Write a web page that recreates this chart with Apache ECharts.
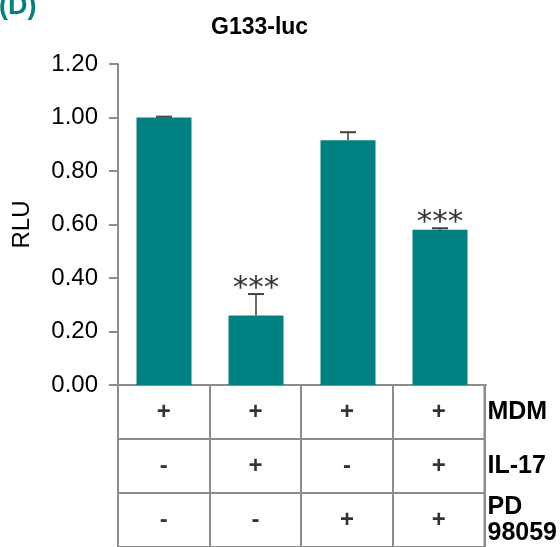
<!DOCTYPE html>
<html>
<head>
<meta charset="utf-8">
<script src="https://cdn.jsdelivr.net/npm/echarts@6/dist/echarts.min.js"></script>
<style>
  html, body { margin: 0; padding: 0; background: #fff; }
  #chart { width: 560px; height: 547px; }
</style>
</head>
<body>
<div id="chart"></div>
<script>
// ---- data ----
const categories = ['C1', 'C2', 'C3', 'C4'];
const rluValues = [1.00, 0.26, 0.915, 0.58];
const rluErrors = [0.003, 0.08, 0.03, 0.006];
const significance = ['', '***', '', '***'];
const rowLabels = ['MDM', 'IL-17', 'PD\n98059'];
const rowMDM = ['+', '+', '+', '+'];
const rowIL17 = ['-', '+', '-', '+'];
const rowPD = ['-', '-', '+', '+'];
const tableRows = [rowMDM, rowIL17, rowPD];

const FONT = '"Liberation Sans", Arial, sans-serif';
const TEAL = '#008080';
const GRAY = '#8c8c8c';

const cellData = [];
tableRows.forEach((row, r) => row.forEach((s, c) => cellData.push({ value: [c, r], sign: s })));

const topData = rluValues.map((v, i) => ({ value: [i, v + rluErrors[i]], stars: significance[i] }));

const chart = echarts.init(document.getElementById('chart'));
chart.setOption({
  animation: false,
  backgroundColor: '#fff',
  title: [
    { text: '(D)', left: -6, top: -12, textStyle: { fontFamily: FONT, fontSize: 27, fontWeight: 'bold', color: TEAL } },
    { text: 'G133-luc', left: 206, top: 11, textStyle: { fontFamily: FONT, fontSize: 23, fontWeight: 'bold', color: '#000' } }
  ],
  grid: [
    { left: 118, width: 368, top: 64, height: 321 },
    { left: 118, width: 368, top: 385, height: 165, show: true, borderColor: GRAY, borderWidth: 2, backgroundColor: 'transparent' }
  ],
  xAxis: [
    {
      type: 'category', data: categories, gridIndex: 0,
      axisLine: { show: true, lineStyle: { color: GRAY, width: 2 } },
      axisTick: { show: false }, axisLabel: { show: false }, splitLine: { show: false }
    },
    {
      type: 'category', data: categories, gridIndex: 1,
      axisLine: { show: false }, axisTick: { show: false }, axisLabel: { show: false },
      splitLine: { show: true, lineStyle: { color: GRAY, width: 2 } }
    }
  ],
  yAxis: [
    {
      type: 'value', gridIndex: 0, min: 0, max: 1.2, interval: 0.2,
      name: 'RLU', nameLocation: 'middle', nameGap: 84, nameRotate: 90,
      nameTextStyle: { fontFamily: FONT, fontSize: 24, color: '#000' },
      axisLine: { show: true, lineStyle: { color: GRAY, width: 2 } },
      axisTick: { show: true, length: 9, lineStyle: { color: GRAY, width: 2 } },
      axisLabel: { fontFamily: FONT, fontSize: 24, color: '#000', margin: 20, formatter: v => v.toFixed(2) },
      splitLine: { show: false }
    },
    {
      type: 'category', gridIndex: 1, data: rowLabels, inverse: true, position: 'right',
      axisLine: { show: false }, axisTick: { show: false },
      axisLabel: { fontFamily: FONT, fontSize: 25, fontWeight: 'bold', color: '#000', margin: 3, lineHeight: 26 },
      splitLine: { show: true, lineStyle: { color: GRAY, width: 2 } }
    }
  ],
  series: [
    {
      type: 'bar', xAxisIndex: 0, yAxisIndex: 0, data: rluValues, barWidth: 55,
      itemStyle: { color: TEAL }
    },
    {
      type: 'custom', xAxisIndex: 0, yAxisIndex: 0,
      data: rluValues.map((v, i) => [i, v, rluErrors[i]]),
      renderItem: function (params, api) {
        const x = api.value(0);
        const base = api.coord([x, api.value(1)]);
        const top = api.coord([x, api.value(1) + api.value(2)]);
        return {
          type: 'group',
          children: [
            { type: 'line', shape: { x1: base[0], y1: base[1], x2: top[0], y2: top[1] }, style: { stroke: '#6b6b6b', lineWidth: 2 } },
            { type: 'line', shape: { x1: top[0] - 8, y1: top[1], x2: top[0] + 8, y2: top[1] }, style: { stroke: '#404040', lineWidth: 2 } }
          ]
        };
      },
      z: 3
    },
    {
      type: 'scatter', xAxisIndex: 0, yAxisIndex: 0, data: topData,
      symbolSize: 1, itemStyle: { color: 'rgba(0,0,0,0)' },
      label: {
        show: true, position: 'top', distance: -11,
        fontFamily: '"DejaVu Sans"', fontSize: 31, color: '#000',
        formatter: p => p.data.stars
      }
    },
    {
      type: 'scatter', xAxisIndex: 1, yAxisIndex: 1, data: cellData,
      symbolSize: 1, itemStyle: { color: 'rgba(0,0,0,0)' },
      label: {
        show: true, position: 'inside',
        fontFamily: FONT, fontSize: 24, fontWeight: 'bold', color: '#000',
        formatter: p => p.data.sign
      }
    }
  ]
});
</script>
</body>
</html>
